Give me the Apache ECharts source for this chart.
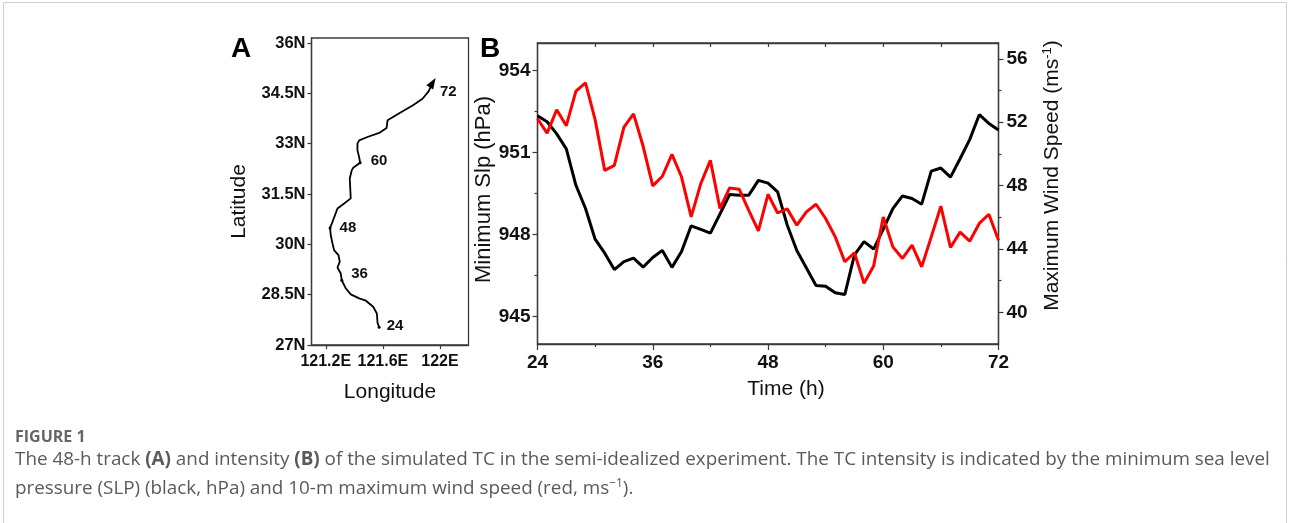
<!DOCTYPE html>
<html>
<head>
<meta charset="utf-8">
<script src="https://cdn.jsdelivr.net/npm/echarts@6.0.0/dist/echarts.min.js"></script>
<style>
  html, body { margin: 0; padding: 0; background: #fff; }
  #container { width: 1290px; height: 523px; }
</style>
</head>
<body>
<div id="container"></div>
<script>
// panel A: 48-h track (lon / lat)
var trackLon = [121.574,121.563,121.558,121.532,121.481,121.434,121.375,121.340,121.312,121.305,
                121.282,121.298,121.289,121.258,121.247,121.235,121.230,121.247,121.282,121.329,
                121.375,121.371,121.368,121.382,121.392,121.441,121.434,121.422,121.422,121.434,
                121.492,121.574,121.626,121.633,121.715,121.808,121.878,121.920,121.949];
var trackLat = [27.53,27.65,27.94,28.14,28.32,28.39,28.51,28.69,28.93,29.13,
                29.31,29.48,29.68,29.83,30.03,30.27,30.49,30.67,31.07,31.22,
                31.37,31.71,31.96,32.21,32.28,32.43,32.60,32.80,33.00,33.10,
                33.20,33.32,33.47,33.70,33.91,34.14,34.34,34.56,34.82];
var trackTagIdx = [0, 8, 16, 25, 38];
var trackTagText = ['24', '36', '48', '60', '72'];
var lonTicks = [121.2, 121.6, 122];
var latTicks = [27, 28.5, 30, 31.5, 33, 34.5, 36];

// panel B: intensity
var hours = [24,25,26,27,28,29,30,31,32,33,34,35,36,37,38,39,40,41,42,43,44,45,46,47,48,
             49,50,51,52,53,54,55,56,57,58,59,60,61,62,63,64,65,66,67,68,69,70,71,72];
var slp = [952.34,952.12,951.68,951.13,949.80,948.95,947.83,947.32,946.72,947.01,947.14,946.81,947.16,
           947.42,946.80,947.38,948.32,948.19,948.05,948.75,949.46,949.44,949.44,949.98,949.88,
           949.56,948.35,947.42,946.78,946.14,946.11,945.87,945.81,947.26,947.74,947.47,948.20,
           948.95,949.41,949.32,949.11,950.32,950.43,950.10,950.77,951.47,952.38,952.06,951.82];
var wind = [52.22,51.31,52.79,51.78,53.96,54.49,52.16,48.96,49.28,51.69,52.53,50.48,47.98,
            48.59,49.97,48.54,46.02,48.12,49.59,46.55,47.85,47.77,46.44,45.14,47.45,
            46.27,46.53,45.50,46.34,46.82,45.92,44.76,43.19,43.76,41.83,42.92,46.02,
            44.13,43.40,44.24,42.87,44.76,46.70,44.09,45.06,44.49,45.61,46.19,44.55];
var hourTicks = [24, 36, 48, 60, 72];
var hourMinor = [30, 42, 54, 66];
var hourTop = [30, 36, 42, 48, 54, 60, 66];
var slpTicks = [945, 948, 951, 954];
var slpMinor = [946.5, 949.5, 952.5];
var windTicks = [40, 44, 48, 52, 56];
var windMinor = [42, 46, 50, 54];

var FONT = 'Liberation Sans';
var axisCol = '#3a3a3a';
var tagOffset = [[2, -1], [4, -6], [4, 0], [5, -2], [-3, 9]];

function pair(a, b) {
  var out = [];
  for (var i = 0; i < a.length; i++) out.push([a[i], b[i]]);
  return out;
}

var trackData = pair(trackLon, trackLat).map(function (p, i) {
  var k = trackTagIdx.indexOf(i);
  if (k < 0) return { value: p };
  var last = (i === trackLon.length - 1);
  return {
    value: p,
    symbol: last ? 'triangle' : 'circle',
    symbolSize: last ? [8, 11] : 3,
    symbolRotate: last ? -32 : 0,
    label: {
      show: true, position: 'right', distance: 4,
      offset: tagOffset[k],
      formatter: trackTagText[k],
      fontFamily: FONT, fontWeight: 'bold', fontSize: 15, color: '#111'
    }
  };
});

function tickAxis(o) {
  var base = {
    type: 'value',
    splitLine: { show: false },
    axisLine: { show: false, onZero: false, lineStyle: { color: axisCol, width: 1.3 } },
    axisTick: { show: true, lineStyle: { color: axisCol, width: 1.2 } },
    axisLabel: { show: false }
  };
  return Object.assign(base, o);
}

var labelStyle = { fontFamily: FONT, fontWeight: 'bold', fontSize: 19, color: '#111' };
var nameStyle = { fontFamily: FONT, fontSize: 21, color: '#111' };

var myChart = echarts.init(document.getElementById('container'));
var option = {
  animation: false,
  backgroundColor: '#fff',
  grid: [
    { left: 311.5, top: 38, width: 157, height: 307, show: true, borderColor: axisCol, borderWidth: 1.3 },
    { left: 537.5, top: 43, width: 461, height: 301, show: true, borderColor: axisCol, borderWidth: 1.3 }
  ],
  xAxis: [
    tickAxis({
      gridIndex: 0, min: 121.1, max: 122.2, position: 'bottom',
      axisLine: { show: true, onZero: false, lineStyle: { color: axisCol, width: 1.3 } },
      axisTick: { show: true, length: 4, customValues: lonTicks, lineStyle: { color: axisCol, width: 1.2 } },
      axisLabel: Object.assign({ show: true, margin: 9, customValues: lonTicks,
        formatter: function (v) { return (Math.round(v * 10) / 10) + 'E'; } }, labelStyle, { fontSize: 16 }),
      name: 'Longitude', nameLocation: 'middle', nameGap: 37, nameTextStyle: nameStyle
    }),
    tickAxis({
      gridIndex: 1, min: 24, max: 72, position: 'bottom',
      axisLine: { show: true, onZero: false, lineStyle: { color: axisCol, width: 1.3 } },
      axisTick: { show: true, length: 6, customValues: hourTicks, lineStyle: { color: axisCol, width: 1.2 } },
      axisLabel: Object.assign({ show: true, margin: 9, customValues: hourTicks }, labelStyle),
      name: 'Time (h)', nameLocation: 'middle', nameGap: 35,
      nameTextStyle: Object.assign({ padding: [0, 0, 0, 36] }, nameStyle)
    }),
    tickAxis({
      gridIndex: 1, min: 24, max: 72, position: 'bottom',
      axisTick: { show: true, length: 3, customValues: hourMinor, lineStyle: { color: axisCol, width: 1.2 } }
    }),
    tickAxis({
      gridIndex: 1, min: 24, max: 72, position: 'top',
      axisLine: { show: true, onZero: false, lineStyle: { color: axisCol, width: 1.3 } },
      axisTick: { show: true, inside: true, length: 4, customValues: hourTop, lineStyle: { color: axisCol, width: 1.2 } }
    })
  ],
  yAxis: [
    tickAxis({
      gridIndex: 0, min: 27, max: 36.15, position: 'left',
      axisLine: { show: true, onZero: false, lineStyle: { color: axisCol, width: 1.3 } },
      axisTick: { show: true, length: 4, customValues: latTicks, lineStyle: { color: axisCol, width: 1.2 } },
      axisLabel: Object.assign({ show: true, margin: 6, customValues: latTicks,
        formatter: function (v) { return v + 'N'; } }, labelStyle, { fontSize: 16.5 }),
      name: 'Latitude', nameLocation: 'middle', nameGap: 62,
      nameTextStyle: Object.assign({ padding: [0, 20, 0, 0] }, nameStyle)
    }),
    tickAxis({
      gridIndex: 1, min: 944, max: 955, position: 'left',
      axisLine: { show: true, onZero: false, lineStyle: { color: axisCol, width: 1.3 } },
      axisTick: { show: true, length: 5, customValues: slpTicks, lineStyle: { color: axisCol, width: 1.2 } },
      axisLabel: Object.assign({ show: true, margin: 7, customValues: slpTicks }, labelStyle),
      name: 'Minimum Slp (hPa)', nameLocation: 'middle', nameGap: 36,
      nameTextStyle: Object.assign({ padding: [0, 0, 0, 8] }, nameStyle, { fontSize: 22 })
    }),
    tickAxis({
      gridIndex: 1, min: 38, max: 57, position: 'right',
      axisLine: { show: true, onZero: false, lineStyle: { color: axisCol, width: 1.3 } },
      axisTick: { show: true, length: 5, customValues: windTicks, lineStyle: { color: axisCol, width: 1.2 } },
      axisLabel: Object.assign({ show: true, margin: 8, customValues: windTicks }, labelStyle),
      name: 'Maximum Wind Speed (ms{sup|-1})', nameLocation: 'middle', nameGap: 42, nameRotate: 90,
      nameTextStyle: Object.assign({ padding: [0, 0, 0, 36],
        rich: { sup: { fontFamily: FONT, fontSize: 13, color: '#111', padding: [0, 0, 10, 0] } } }, nameStyle)
    }),
    tickAxis({
      gridIndex: 1, min: 944, max: 955, position: 'left',
      axisTick: { show: true, length: 3, customValues: slpMinor, lineStyle: { color: axisCol, width: 1.2 } }
    }),
    tickAxis({
      gridIndex: 1, min: 38, max: 57, position: 'right',
      axisTick: { show: true, length: 3, customValues: windMinor, lineStyle: { color: axisCol, width: 1.2 } }
    })
  ],
  series: [
    {
      name: 'track', type: 'line', xAxisIndex: 0, yAxisIndex: 0,
      data: trackData, symbol: 'none', showSymbol: true,
      itemStyle: { color: '#000' },
      lineStyle: { color: '#000', width: 1.8 }
    },
    {
      name: 'SLP', type: 'line', xAxisIndex: 1, yAxisIndex: 1,
      data: pair(hours, slp), symbol: 'none',
      lineStyle: { color: '#000', width: 3 }
    },
    {
      name: 'Wind', type: 'line', xAxisIndex: 1, yAxisIndex: 2,
      data: pair(hours, wind), symbol: 'none',
      lineStyle: { color: '#ff0000', width: 3 }
    }
  ],
  graphic: [
    { type: 'rect', silent: true, shape: { x: 3.5, y: 2.5, width: 1283, height: 540 },
      style: { fill: 'none', stroke: '#cfcfcf', lineWidth: 1 } },
    { type: 'text', left: 231, top: 35,
      style: { text: 'A', font: 'bold 28px "Liberation Sans"', fill: '#000' } },
    { type: 'text', left: 480, top: 35,
      style: { text: 'B', font: 'bold 28px "Liberation Sans"', fill: '#000' } },
    { type: 'text', left: 15, top: 429,
      style: { text: 'FIGURE 1', font: 'bold 16px "Open Sans"', fill: '#666' } },
    { type: 'text', left: 15, top: 450,
      style: {
        text: '{n|The 48-h track }{b|(A)}{n| and intensity }{b|(B)}{n| of the simulated TC in the semi-idealized experiment. The TC intensity is indicated by the minimum sea level}',
        rich: {
          n: { font: '18.85px "Open Sans"', fill: '#5a5a5a' },
          b: { font: 'bold 18.85px "Open Sans"', fill: '#5a5a5a' }
        }
      } },
    { type: 'text', left: 15, top: 478,
      style: {
        text: '{n|pressure (SLP) (black, hPa) and 10-m maximum wind speed (red, ms}{s|\u22121}{n|).}',
        rich: {
          n: { font: '18.85px "Open Sans"', fill: '#5a5a5a' },
          s: { font: '12px "Open Sans"', fill: '#5a5a5a', padding: [0, 0, 9, 0] }
        }
      } }
  ]
};
myChart.setOption(option);
</script>
</body>
</html>
